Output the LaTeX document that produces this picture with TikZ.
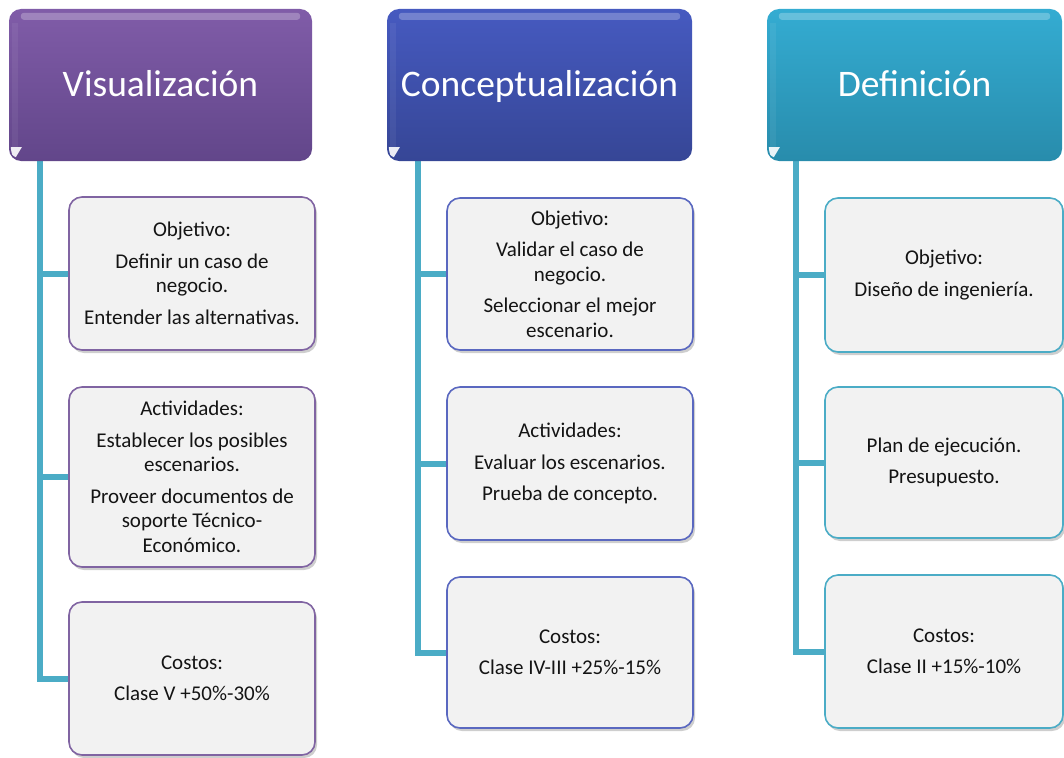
\documentclass[tikz,border=0pt]{standalone}
\usepackage{fontspec}
\setmainfont{Carlito}
\usetikzlibrary{shadows,backgrounds,calc}
\definecolor{purpT}{RGB}{128,92,168}
\definecolor{purpB}{RGB}{98,70,138}
\definecolor{blueT}{RGB}{70,90,192}
\definecolor{blueB}{RGB}{54,70,150}
\definecolor{tealT}{RGB}{52,172,210}
\definecolor{tealB}{RGB}{40,140,172}
\definecolor{conncol}{RGB}{75,172,198}
\definecolor{boxfill}{RGB}{242,242,242}
\definecolor{purpline}{RGB}{128,100,162}
\definecolor{blueline}{RGB}{90,104,192}
\definecolor{tealline}{RGB}{75,172,198}
\definecolor{txt}{RGB}{20,20,20}
\newcommand\hdrgloss[1]{%
  \fill[white,opacity=0.25,rounded corners=3pt]
    ($(#1.north west)+(12,4)$) rectangle ($(#1.north east)+(-12,11)$);
  \fill[white,opacity=0.06]
    ($(#1.north west)+(3,14)$) rectangle ($(#1.south west)+(9,-14)$);
  \fill[white,opacity=0.9]
    ($(#1.south west)+(2,-14)$) -- ($(#1.south west)+(13,-14)$) --
    ($(#1.south west)+(7,-4)$) .. controls ($(#1.south west)+(3,-6)$) .. cycle;
}
\begin{document}
\begin{tikzpicture}[x=1pt,y=-1pt,
  hdr/.style={rounded corners=12pt, draw=none, text=white,
    font=\fontsize{37.5}{44}\selectfont, minimum height=152pt, inner sep=0pt,
    text height=25pt, text depth=3pt},
  sub/.style={draw, line width=1.6pt, rounded corners=13pt, fill=boxfill,
    align=center, text=txt, font=\fontsize{21}{24.5}\selectfont,
    inner sep=0pt,
    drop shadow={shadow xshift=2pt, shadow yshift=-3pt, opacity=0.35, fill=black!55}},
  conn/.style={draw=conncol, line width=6pt, line join=miter}]
\useasboundingbox (0,0) rectangle (1064,757);

% headers
\node[hdr, minimum width=303pt, top color=purpT, bottom color=purpB] (h1) at (160.5,85) {Visualización};
\node[hdr, minimum width=305pt, top color=blueT, bottom color=blueB] (h2) at (539.5,85) {Conceptualización};
\node[hdr, minimum width=295pt, top color=tealT, bottom color=tealB] (h3) at (914.5,85) {Definición};
\hdrgloss{h1}
\hdrgloss{h2}
\hdrgloss{h3}

% column 1
\node[sub, draw=purpline, minimum width=246pt, minimum height=153pt] (a1) at (192,273.5)
  {Objetivo:\\[7pt] Definir un caso de\\ negocio.\\[7pt] Entender las alternativas.};
\node[sub, draw=purpline, minimum width=246pt, minimum height=180pt] (a2) at (192,477)
  {Actividades:\\[7pt] Establecer los posibles\\ escenarios.\\[7pt] Proveer documentos de\\ soporte Técnico-\\ Económico.};
\node[sub, draw=purpline, minimum width=246pt, minimum height=153pt] (a3) at (192,678.5)
  {Costos:\\[7pt] Clase V +50\%-30\%};

% column 2
\node[sub, draw=blueline, minimum width=246pt, minimum height=152pt] (b1) at (570,274)
  {Objetivo:\\[7pt] Validar el caso de\\ negocio.\\[7pt] Seleccionar el mejor\\ escenario.};
\node[sub, draw=blueline, minimum width=246pt, minimum height=153pt] (b2) at (570,463.5)
  {Actividades:\\[7pt] Evaluar los escenarios.\\[7pt] Prueba de concepto.};
\node[sub, draw=blueline, minimum width=246pt, minimum height=151pt] (b3) at (570,652.5)
  {Costos:\\[7pt] Clase IV-III +25\%-15\%};

% column 3
\node[sub, draw=tealline, minimum width=238pt, minimum height=154pt] (c1) at (944,275)
  {Objetivo:\\[7pt] Diseño de ingeniería.};
\node[sub, draw=tealline, minimum width=238pt, minimum height=151pt] (c2) at (944,462.5)
  {Plan de ejecución.\\[7pt] Presupuesto.};
\node[sub, draw=tealline, minimum width=238pt, minimum height=153pt] (c3) at (944,651.5)
  {Costos:\\[7pt] Clase II +15\%-10\%};

\coordinate (t1) at (40,160);
\coordinate (t2) at (418,160);
\coordinate (t3) at (796,160);

\begin{pgfonlayer}{background}
  \draw[conn] (t1) |- (a3.west);
  \draw[conn] (t1 |- a1.west) -- (a1.west);
  \draw[conn] (t1 |- a2.west) -- (a2.west);
  \draw[conn] (t2) |- (b3.west);
  \draw[conn] (t2 |- b1.west) -- (b1.west);
  \draw[conn] (t2 |- b2.west) -- (b2.west);
  \draw[conn] (t3) |- (c3.west);
  \draw[conn] (t3 |- c1.west) -- (c1.west);
  \draw[conn] (t3 |- c2.west) -- (c2.west);
\end{pgfonlayer}
\end{tikzpicture}
\end{document}
